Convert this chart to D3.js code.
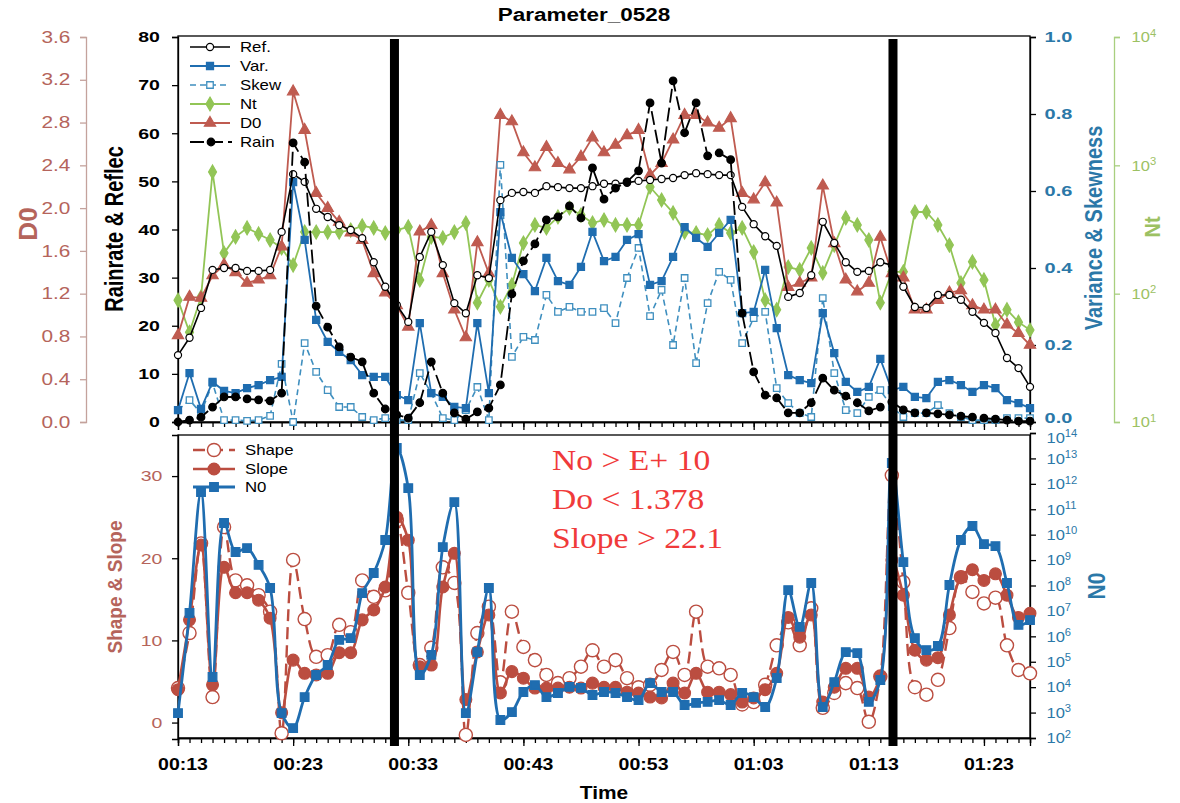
<!DOCTYPE html>
<html>
<head>
<meta charset="utf-8">
<script src="https://cdn.jsdelivr.net/npm/d3@7"></script>
<style>
body { margin: 0; background: #fff; }
svg { font-family: Arial, "Liberation Sans", sans-serif; }
</style>
</head>
<body>
<script>
// time axis, one sample per minute (00:13 .. 01:27)
let minutes = [13,14,15,16,17,18,19,20,21,22,23,24,25,26,27,28,29,30,31,32,33,34,35,36,37,38,39,40,41,42,
  43,44,45,46,47,48,49,50,51,52,53,54,55,56,57,58,59,60,61,62,63,64,65,66,67,68,69,70,71,72,
  73,74,75,76,77,78,79,80,81,82,83,84,85,86,87];
let timeTicks = [13,23,33,43,53,63,73,83];
let timeLabels = ["00:13","00:23","00:33","00:43","00:53","01:03","01:13","01:23"];
let cutMarks = [31.8, 75.1];

// upper panel
let ref = [13.9,17.5,23.7,31.6,32.0,32.0,31.4,31.4,31.6,39.5, 51.5,49.9,44.3,42.6,40.9,39.9,38.2,33.2,28.1,24.3,
  20.8,34.3,39.5,32.6,24.7,22.6,30.5,29.9,46.1,47.6, 47.8,47.6,49.0,48.8,48.6,48.6,49.0,49.5,49.5,49.7,
  50.1,50.3,50.5,50.7,51.3,51.7,51.5,51.3,51.3,44.7, 41.1,38.6,36.6,26.0,26.8,30.5,41.6,37.2,33.2,31.2,
  31.4,33.2,32.6,28.1,23.9,23.7,26.4,26.4,25.4,22.9, 20.6,18.5,13.3,11.2,7.3];
let rain = [0.0,0.4,1.0,3.1,5.2,5.2,4.8,4.6,4.4,6.0, 58.0,54.0,24.1,19.7,15.6,13.5,12.5,6.0,2.7,1.5,
  0.8,4.0,12.5,6.0,1.9,0.6,2.1,2.9,7.7,26.6, 33.5,37.0,42.0,42.6,44.9,42.4,52.8,46.3,48.6,49.9,
  52.2,66.3,53.8,70.9,60.1,66.3,55.3,55.9,54.5,22.6, 10.4,5.6,5.0,1.9,1.9,4.0,9.1,6.6,5.4,4.0,
  2.3,3.1,4.2,2.5,1.9,1.9,1.7,1.5,1.2,1.0, 0.8,0.6,0.4,0.2,0.2];
let d0 = [0.81,1.17,1.16,1.37,1.47,1.40,1.30,1.33,1.37,1.64, 3.09,2.73,2.14,2.00,1.87,1.77,1.70,1.39,1.21,1.09,
  0.89,1.78,1.84,1.39,1.05,0.79,1.68,1.39,2.87,2.81, 2.52,2.38,2.57,2.42,2.36,2.48,2.66,2.52,2.59,2.68,
  2.73,2.31,2.42,2.64,2.87,2.87,2.80,2.75,2.84,2.14, 2.08,2.24,2.05,1.26,1.30,1.35,2.21,1.67,1.33,1.22,
  1.30,1.73,1.39,1.35,1.05,1.05,1.14,1.21,1.23,1.09, 1.05,1.05,0.91,0.83,0.72];
let nt = [89,50,94,888,207,277,325,292,262,227, 167,302,302,302,302,313,337,325,297,313,
  331,128,277,272,302,355,85,128,79,117, 248,343,325,396,465,410,355,375,343,343,
  343,678,537,426,302,297,286,343,297,325, 211,89,75,161,153,227,145,239,389,343,
  262,85,148,148,433,433,343,239,121,177, 128,57,75,60,52];
let variance = [0.031,0.127,0.034,0.104,0.081,0.075,0.088,0.096,0.109,0.117, 0.623,0.473,0.265,0.208,0.182,0.161,0.122,0.117,0.117,0.070,
  0.057,0.257,0.075,0.065,0.039,0.036,0.257,0.075,0.545,0.426, 0.384,0.340,0.426,0.366,0.356,0.403,0.494,0.418,0.429,0.473,
  0.488,0.356,0.366,0.429,0.506,0.478,0.455,0.491,0.525,0.283, 0.286,0.395,0.244,0.122,0.109,0.101,0.283,0.179,0.104,0.078,
  0.091,0.164,0.083,0.091,0.065,0.062,0.104,0.109,0.096,0.078, 0.096,0.088,0.057,0.049,0.036];
let skew = [0.031,0.057,0.023,0.101,0.005,0.005,0.003,0.005,0.016,0.151, 0.0,0.205,0.130,0.083,0.039,0.039,0.013,0.005,0.010,0.005,
  0.005,0.127,0.075,0.010,0.005,0.031,0.091,0.005,0.668,0.169, 0.221,0.213,0.330,0.286,0.299,0.286,0.286,0.296,0.257,0.374,
  0.452,0.275,0.343,0.200,0.374,0.153,0.309,0.390,0.369,0.205, 0.270,0.286,0.088,0.049,0.023,0.013,0.322,0.127,0.031,0.023,
  0.065,0.083,0.039,0.013,0.023,0.023,0.044,0.023,0.013,0.005, 0.005,0.005,0.010,0.010,0.010];

// lower panel
let shape = [4.2,10.9,21.8,3.1,23.8,17.3,16.7,15.5,13.5,-1.3, 19.8,12.6,8.0,8.2,11.9,11.0,17.3,15.3,16.1,24.6,
  15.8,7.0,9.1,18.9,17.0,-1.5,10.9,14.1,4.9,13.5, 9.2,7.6,5.8,4.8,5.4,6.8,8.8,6.8,7.6,5.4,
  4.3,4.6,6.4,8.6,5.8,13.5,6.8,6.6,5.8,2.2, 2.5,4.6,9.4,12.2,9.4,13.9,1.8,3.6,4.8,4.2,
  0.1,5.6,30.1,17.1,4.3,3.4,5.2,11.5,17.7,15.9, 14.5,15.2,9.4,6.4,6.0];
let slope = [4.0,12.5,21.6,4.6,18.9,15.8,15.8,14.9,12.7,1.2, 7.6,6.0,5.8,6.0,8.5,8.5,12.5,13.7,16.5,25.0,
  22.2,6.8,7.0,16.5,20.6,2.8,8.6,13.1,3.6,6.2, 5.4,4.2,4.2,4.2,4.3,4.2,4.8,4.3,4.3,3.7,
  3.6,3.1,3.0,4.8,3.6,6.0,3.7,3.7,3.4,2.5, 3.0,4.0,6.0,12.8,10.4,13.1,2.5,4.3,6.6,6.6,
  3.1,5.6,19.8,15.5,8.8,7.6,7.9,13.1,17.7,18.6, 17.3,18.1,15.5,12.8,13.3];
let n0Log10 = [2.98,6.92,11.68,4.40,10.46,9.32,9.47,8.81,7.90,2.98, 2.39,3.61,4.48,4.87,5.86,5.93,7.70,8.49,9.79,13.41,
  11.83,4.48,5.27,9.51,11.28,2.98,5.38,7.90,2.71,3.02, 3.81,4.08,3.61,3.77,4.01,3.97,3.69,3.81,3.77,3.61,
  3.49,4.16,3.81,3.81,3.30,3.38,3.42,3.49,3.30,3.77, 3.61,3.22,4.36,7.82,6.37,8.10,3.22,4.20,5.38,5.34,
  3.42,4.28,12.82,8.92,5.93,5.46,5.62,8.02,9.79,10.34, 9.63,9.55,8.10,6.45,6.64];

let rainTicks = [0,10,20,30,40,50,60,70,80];
let d0Ticks = [0,0.4,0.8,1.2,1.6,2.0,2.4,2.8,3.2,3.6];
let vsTicks = [0,0.2,0.4,0.6,0.8,1.0];
let ntTicks = [1e1,1e2,1e3,1e4];
let ssTicks = [0,10,20,30];
let n0Ticks = [1e2,1e3,1e4,1e5,1e6,1e7,1e8,1e9,1e10,1e11,1e12,1e13,1e14];

let brown = "#bf5b50", brownTxt = "#b5645b", ssBrown = "#bb4d40";
let varBlue = "#1f6db0", skewBlue = "#3f8fbf", axBlue = "#2b78a8";
let green = "#92c556", greenTxt = "#9cc163";

let w = 1180, h = 803;
let svg = d3.select("body").append("svg").attr("width", w).attr("height", h);

let x = d3.scaleLinear().domain([13, 87]).range([178, 1030]);
let yRR = d3.scaleLinear().domain([0, 80]).range([422, 37]);
let yD0 = d3.scaleLinear().domain([0, 3.6]).range([422, 37]);
let yVS = d3.scaleLinear().domain([0, 1]).range([422, 37]);
let yNt = d3.scaleLog().domain([10, 1e4]).range([422, 37]);
let ySS = d3.scaleLinear().domain([-2, 35]).range([739, 435]);
let yN0 = d3.scaleLog().domain([1e2, 1e14]).range([738, 433]);

function addText(parent, px, py, str, o) {
  o = o || {};
  let tr = "translate(" + px + "," + py + ") scale(" + (o.sx || 1) + ",1)";
  if (o.rot) tr += " rotate(" + o.rot + ")";
  let t = parent.append("text")
    .attr("transform", tr)
    .attr("text-anchor", o.anchor || "start")
    .attr("font-size", o.size || 14)
    .attr("font-weight", o.weight || "normal")
    .attr("fill", o.fill || "#000")
    .text(str);
  if (o.family) t.attr("font-family", o.family);
  return t;
}

function styleAxis(g, lineColor, txtColor, size, weight, sx) {
  g.attr("font-family", null).attr("font-size", size);
  g.select(".domain").attr("stroke", lineColor).attr("stroke-width", 1.3);
  g.selectAll(".tick line").attr("stroke", lineColor).attr("stroke-width", 1.3);
  g.selectAll(".tick text").attr("fill", txtColor).attr("font-weight", weight)
    .attr("transform", "scale(" + sx + ",1)");
}

function powLabels(g) {
  g.selectAll(".tick text").each(function(d) {
    let t = d3.select(this).text(null);
    t.append("tspan").text("10");
    t.append("tspan").attr("dy", "-0.55em").attr("font-size", "0.68em").text(Math.round(Math.log10(d)));
  });
}

// ---------- axes ----------
// D0 (outer left)
let gD0 = svg.append("g").attr("transform", "translate(86,0)")
  .call(d3.axisLeft(yD0).tickValues(d0Ticks).tickFormat(d3.format(".1f")).tickSizeOuter(0).tickSize(6).tickPadding(6));
styleAxis(gD0, "#c4a29c", brownTxt, 16, "normal", 1.3);

// Rainrate & Reflec
let gRR = svg.append("g").attr("transform", "translate(178,0)")
  .call(d3.axisLeft(yRR).tickValues(rainTicks).tickSizeOuter(0).tickSize(6).tickPadding(8));
styleAxis(gRR, "#000", "#000", 15, "bold", 1.3);

// Variance & Skewness
let gVS = svg.append("g").attr("transform", "translate(1030,0)")
  .call(d3.axisRight(yVS).tickValues(vsTicks).tickFormat(d3.format(".1f")).tickSizeOuter(0).tickSize(6).tickPadding(5));
styleAxis(gVS, "#000", axBlue, 15, "bold", 1.33);
// lift the 0.0 label a little so it clears the N0 axis top label
gVS.selectAll(".tick text").filter(function(d) { return d === 0; }).attr("dy", "0.05em");

// Nt (log)
let gNt = svg.append("g").attr("transform", "translate(1114,0)")
  .call(d3.axisRight(yNt).tickValues(ntTicks).tickSizeOuter(0).tickSize(6).tickPadding(10));
styleAxis(gNt, "#a9cf7f", greenTxt, 15, "normal", 1.1);
powLabels(gNt);

// Shape & Slope
let gSS = svg.append("g").attr("transform", "translate(178,0)")
  .call(d3.axisLeft(ySS).tickValues(ssTicks).tickSizeOuter(0).tickSize(6).tickPadding(6));
styleAxis(gSS, "#000", brownTxt, 15, "normal", 1.3);

// N0 (log)
let gN0 = svg.append("g").attr("transform", "translate(1030,0)")
  .call(d3.axisRight(yN0).tickValues(n0Ticks).tickSizeOuter(0).tickSize(6).tickPadding(9));
styleAxis(gN0, "#000", axBlue, 15, "normal", 1.1);
powLabels(gN0);
gN0.selectAll(".tick text").filter(function(d) { return d === 1e14; }).attr("dy", "0.62em");

// time axes (minor every minute, major every 10 min)
[422, 738].forEach(function(yy) {
  let gm = svg.append("g").attr("transform", "translate(0," + yy + ")")
    .call(d3.axisBottom(x).tickValues(minutes).tickFormat("").tickSizeOuter(0).tickSize(5));
  styleAxis(gm, "#000", "#000", 10, "normal", 1);
  let gM = svg.append("g").attr("transform", "translate(0," + yy + ")")
    .call(d3.axisBottom(x).tickValues(timeTicks).tickFormat("").tickSizeOuter(0).tickSize(8));
  styleAxis(gM, "#000", "#000", 10, "normal", 1);
});
timeTicks.forEach(function(m, i) {
  addText(svg, x(m) + 5, 770, timeLabels[i], {anchor: "middle", size: 16, weight: "bold", sx: 1.22});
});

// panel frames
svg.append("rect").attr("x", 178).attr("y", 36).attr("width", 852).attr("height", 386)
  .attr("fill", "none").attr("stroke", "#000").attr("stroke-width", 1.3);
svg.append("rect").attr("x", 178).attr("y", 435).attr("width", 852).attr("height", 303)
  .attr("fill", "none").attr("stroke", "#000").attr("stroke-width", 1.3);

// ---------- series ----------
function drawSeries(g, vals, yS, o) {
  let pts = vals.map(function(v, i) { return [x(minutes[i]), yS(v)]; });
  g.append("path")
    .attr("d", d3.line().curve(o.curve || d3.curveLinear)(pts))
    .attr("fill", "none").attr("stroke", o.color).attr("stroke-width", o.width)
    .attr("stroke-dasharray", o.dash || null);
  g.append("g").selectAll("path").data(pts).join("path")
    .attr("transform", function(d) { return "translate(" + d[0] + "," + d[1] + ")"; })
    .attr("d", d3.symbol(o.symbol, o.size)())
    .attr("fill", o.fill).attr("stroke", o.color).attr("stroke-width", o.sw || 1.2);
}

let gTop = svg.append("g");
drawSeries(gTop, nt, yNt, {color: green, width: 1.8, symbol: d3.symbolDiamond, size: 55, fill: green});
drawSeries(gTop, d0, yD0, {color: brown, width: 1.8, symbol: d3.symbolTriangle, size: 55, fill: brown});
drawSeries(gTop, skew, yVS, {color: skewBlue, width: 1.6, dash: "6,4", symbol: d3.symbolSquare, size: 42, fill: "#fff", sw: 1.3});
drawSeries(gTop, variance, yVS, {color: varBlue, width: 1.8, symbol: d3.symbolSquare, size: 50, fill: varBlue});
drawSeries(gTop, ref, yRR, {color: "#000", width: 1.6, symbol: d3.symbolCircle, size: 40, fill: "#fff", sw: 1.2});
drawSeries(gTop, rain, yRR, {color: "#000", width: 1.8, dash: "14,5", symbol: d3.symbolCircle, size: 45, fill: "#000"});

let gBottom = svg.append("g");
let smooth = d3.curveCatmullRom.alpha(0.5);
drawSeries(gBottom, shape, ySS, {color: ssBrown, width: 2.4, dash: "12,6", curve: smooth, symbol: d3.symbolCircle, size: 135, fill: "#fff", sw: 1.4});
drawSeries(gBottom, slope, ySS, {color: ssBrown, width: 2.6, curve: smooth, symbol: d3.symbolCircle, size: 110, fill: ssBrown});
drawSeries(gBottom, n0Log10.map(function(e) { return Math.pow(10, e); }), yN0,
  {color: varBlue, width: 2.8, curve: smooth, symbol: d3.symbolSquare, size: 75, fill: varBlue});

// ---------- legends ----------
function legendItem(g, x0, x1, yy, label, o) {
  g.append("line").attr("x1", x0).attr("x2", x1).attr("y1", yy).attr("y2", yy)
    .attr("stroke", o.color).attr("stroke-width", o.width).attr("stroke-dasharray", o.dash || null);
  g.append("path").attr("transform", "translate(" + ((x0 + x1) / 2) + "," + yy + ")")
    .attr("d", d3.symbol(o.symbol, o.size)())
    .attr("fill", o.fill).attr("stroke", o.color).attr("stroke-width", o.sw || 1.2);
  addText(g, x1 + o.gap, yy + 5, label, {size: 14, sx: 1.2});
}
let lg = svg.append("g");
legendItem(lg, 190, 230, 47, "Ref.", {color: "#000", width: 1.6, symbol: d3.symbolCircle, size: 40, fill: "#fff", gap: 10});
legendItem(lg, 190, 230, 66, "Var.", {color: varBlue, width: 1.8, symbol: d3.symbolSquare, size: 50, fill: varBlue, gap: 10});
legendItem(lg, 190, 230, 85, "Skew", {color: skewBlue, width: 1.6, dash: "6,4", symbol: d3.symbolSquare, size: 42, fill: "#fff", sw: 1.3, gap: 10});
legendItem(lg, 190, 230, 104, "Nt", {color: green, width: 1.8, symbol: d3.symbolDiamond, size: 55, fill: green, gap: 10});
legendItem(lg, 190, 230, 123, "D0", {color: brown, width: 1.8, symbol: d3.symbolTriangle, size: 55, fill: brown, gap: 10});
legendItem(lg, 190, 232, 142, "Rain", {color: "#000", width: 1.8, dash: "14,5", symbol: d3.symbolCircle, size: 45, fill: "#000", gap: 8});

let lb = svg.append("g");
legendItem(lb, 193, 235, 450, "Shape", {color: ssBrown, width: 2.4, dash: "12,6", symbol: d3.symbolCircle, size: 135, fill: "#fff", sw: 1.4, gap: 10});
legendItem(lb, 193, 235, 469, " Slope", {color: ssBrown, width: 2.6, symbol: d3.symbolCircle, size: 110, fill: ssBrown, gap: 10});
legendItem(lb, 193, 235, 487, "N0", {color: varBlue, width: 2.8, symbol: d3.symbolSquare, size: 75, fill: varBlue, gap: 10});

// ---------- thick black markers ----------
svg.append("g").selectAll("rect").data(cutMarks).join("rect")
  .attr("x", function(d) { return x(d) - 4.5; }).attr("y", 39)
  .attr("width", 9).attr("height", 707).attr("fill", "#000");

// ---------- titles ----------
addText(svg, 584, 21, "Parameter_0528", {anchor: "middle", size: 18, weight: "bold", sx: 1.25});
addText(svg, 604, 799, "Time", {anchor: "middle", size: 19, weight: "bold", sx: 1.1});
addText(svg, 37, 224, "D0", {anchor: "middle", size: 26, weight: "bold", fill: brownTxt, rot: -90});
addText(svg, 123, 229, "Rainrate & Reflec", {anchor: "middle", size: 20, weight: "bold", sx: 1.3, rot: -90});
addText(svg, 1102, 228, "Variance & Skewness", {anchor: "middle", size: 20, weight: "bold", fill: axBlue, sx: 1.15, rot: -90});
addText(svg, 1160, 227, "Nt", {anchor: "middle", size: 20, weight: "bold", fill: greenTxt, sx: 1.1, rot: -90});
addText(svg, 122, 587, "Shape & Slope", {anchor: "middle", size: 19, weight: "bold", fill: brownTxt, sx: 1.1, rot: -90});
addText(svg, 1105, 586, "N0", {anchor: "middle", size: 21, weight: "bold", fill: axBlue, sx: 1.1, rot: -90});

// criteria note
let note = ["No > E+ 10", "Do < 1.378", "Slope > 22.1"];
note.forEach(function(s, i) {
  addText(svg, 552, 470 + i * 39, s, {size: 30, fill: "#f03a3a", sx: 1.12, family: "'Liberation Serif', 'DejaVu Serif', serif"});
});
</script>
</body>
</html>
